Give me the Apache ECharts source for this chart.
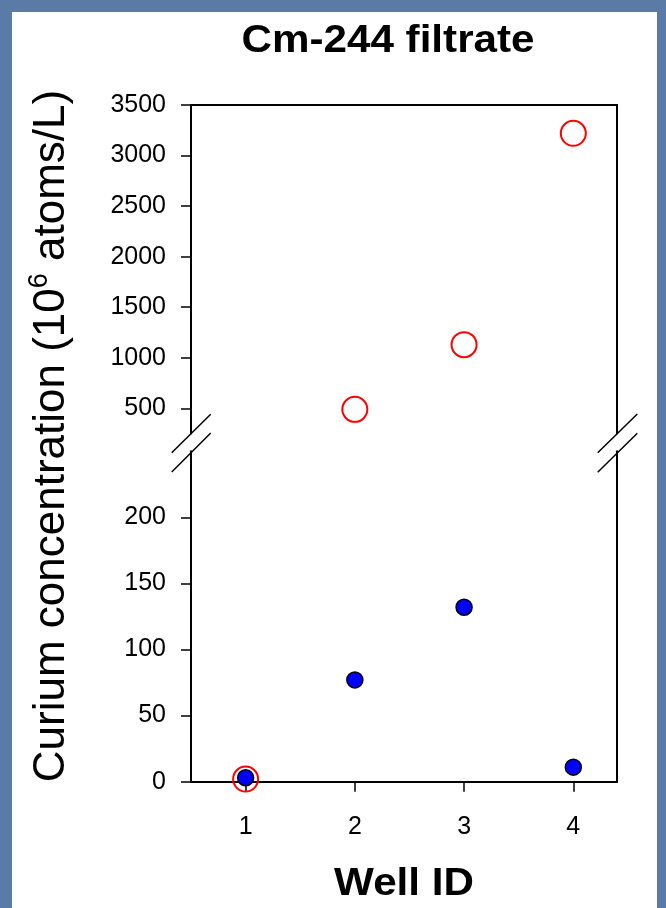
<!DOCTYPE html>
<html>
<head>
<meta charset="utf-8">
<script src="https://cdn.jsdelivr.net/npm/echarts@6/dist/echarts.min.js"></script>
<style>
  html, body { margin: 0; padding: 0; background: #5a7ba6; }
  #chart { width: 666px; height: 908px; }
</style>
</head>
<body>
<div id="chart"></div>
<script>
// data
var wells = [1, 2, 3, 4];
var filledValues = [3, 77, 132, 11];      // blue filled circles
var openValues = [2, 490, 1130, 3220];    // red open circles
var topTicks = [500, 1000, 1500, 2000, 2500, 3000, 3500];
var bottomTicks = [0, 50, 100, 150, 200];
var breakAt = 250;

var font = '"Liberation Sans", Arial, sans-serif';
var black = '#000';

var openLow = [], openHigh = [], filled = [];
for (var i = 0; i < wells.length; i++) {
  filled.push([wells[i], filledValues[i]]);
  if (openValues[i] < breakAt) openLow.push([wells[i], openValues[i]]);
  else openHigh.push([wells[i], openValues[i]]);
}

function plain(v) { return String(v); }

function frameAxis(grid, pos, isX) {
  var a = {
    gridIndex: grid, type: 'value', position: pos,
    axisLine: { show: true, onZero: false, lineStyle: { color: black, width: 2 } },
    axisTick: { show: false }, axisLabel: { show: false }, splitLine: { show: false }
  };
  if (isX) { a.min = 0.5; a.max = 4.4; }
  return a;
}

function ticked(a, values, margin) {
  a.axisTick = { show: true, customValues: values, length: 10, lineStyle: { color: black, width: 1.5 } };
  a.axisLabel = { show: true, customValues: values, margin: margin, color: black,
    fontSize: 25, fontFamily: font, formatter: plain };
  return a;
}

var chart = echarts.init(document.getElementById('chart'));

var xTop0 = frameAxis(0, 'bottom', true);
xTop0.axisLine.show = false;

var xBottom = ticked(frameAxis(1, 'bottom', true), wells, 33);

var yTop = ticked(frameAxis(0, 'left', false), topTicks, 25);
yTop.min = breakAt; yTop.max = 3500;

var yBottom = ticked(frameAxis(1, 'left', false), bottomTicks, 25);
yBottom.min = 0; yBottom.max = breakAt;

var yTopR = frameAxis(0, 'right', false);
yTopR.min = breakAt; yTopR.max = 3500;
var yBottomR = frameAxis(1, 'right', false);
yBottomR.min = 0; yBottomR.max = breakAt;

function slash(x1, y1, x2, y2) {
  return { type: 'line', shape: { x1: x1, y1: y1, x2: x2, y2: y2 }, style: { stroke: black, lineWidth: 1.5 } };
}

var option = {
  animation: false,
  grid: [
    { left: 191, top: 105, width: 426, height: 328.6 },
    { left: 191, top: 451.2, width: 426, height: 330.5 }
  ],
  xAxis: [xTop0, frameAxis(0, 'top', true), xBottom],
  yAxis: [yTop, yTopR, yBottom, yBottomR],
  graphic: [
    { type: 'rect', z: -10, shape: { x: 12, y: 12, width: 645, height: 900 }, style: { fill: '#fff' } },
    { type: 'text', x: 388, y: 42, scaleX: 1.11,
      style: { text: 'Cm-244 filtrate', font: 'bold 38px ' + font, fill: black, align: 'center', verticalAlign: 'middle' } },
    { type: 'text', x: 404, y: 885, scaleX: 1.11,
      style: { text: 'Well ID', font: 'bold 38px ' + font, fill: black, align: 'center', verticalAlign: 'middle' } },
    { type: 'text', x: 50, y: 436, rotation: Math.PI / 2,
      style: {
        text: '{a|Curium concentration (10}{s|6}{a| atoms/L)}',
        align: 'center', verticalAlign: 'middle', fill: black,
        rich: {
          a: { fontSize: 44, fontFamily: font, lineHeight: 48, verticalAlign: 'bottom', fill: black },
          s: { fontSize: 27, fontFamily: font, lineHeight: 26, verticalAlign: 'top', fill: black }
        }
      } },
    slash(171.7, 452.7, 210.7, 414.3),
    slash(171.7, 472, 210.7, 433),
    slash(597.7, 452.7, 637.3, 414),
    slash(597.7, 472.3, 637.3, 433.3)
  ],
  series: [
    {
      type: 'scatter', xAxisIndex: 0, yAxisIndex: 0, data: openHigh,
      symbol: 'circle', symbolSize: 25, silent: true,
      itemStyle: { color: 'rgba(0,0,0,0)', borderColor: '#ff0000', borderWidth: 2, opacity: 1 }
    },
    {
      type: 'scatter', xAxisIndex: 2, yAxisIndex: 2, data: openLow,
      symbol: 'circle', symbolSize: 25, silent: true, clip: false,
      itemStyle: { color: 'rgba(0,0,0,0)', borderColor: '#ff0000', borderWidth: 2, opacity: 1 }
    },
    {
      type: 'scatter', xAxisIndex: 2, yAxisIndex: 2, data: filled,
      symbol: 'circle', symbolSize: 16, silent: true, clip: false,
      itemStyle: { color: '#0000ff', borderColor: black, borderWidth: 1.5, opacity: 1 }
    }
  ]
};

chart.setOption(option);
</script>
</body>
</html>
